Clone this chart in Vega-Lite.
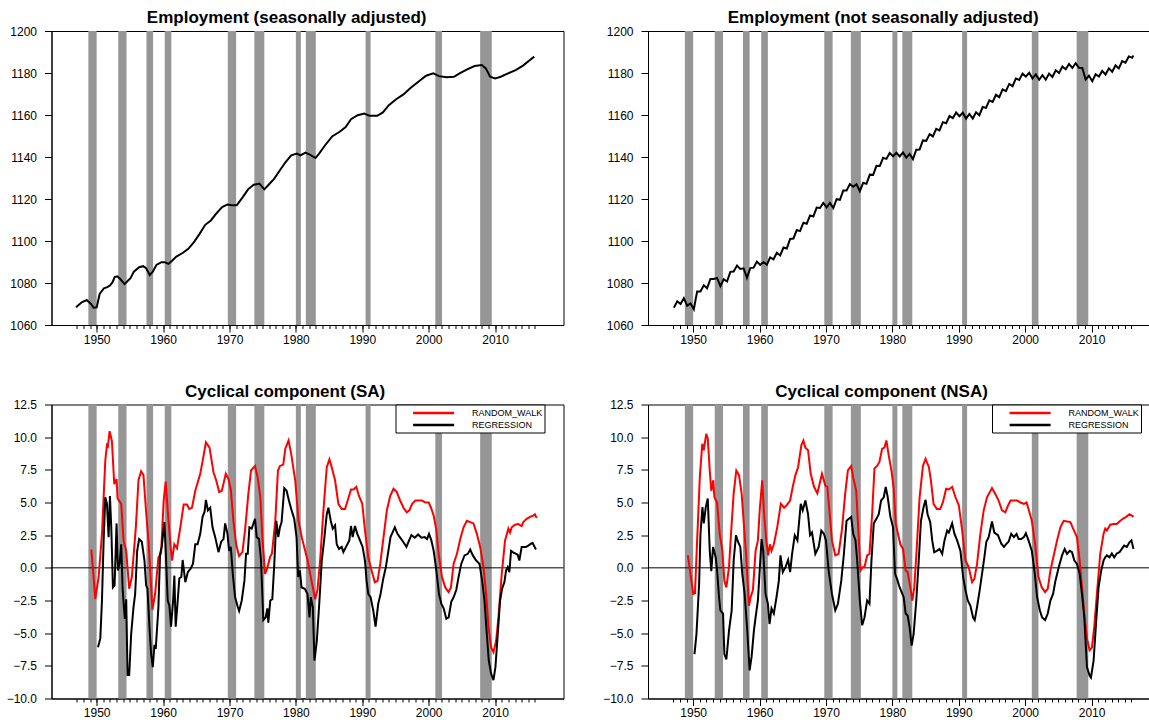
{
  "$schema": "https://vega.github.io/schema/vega-lite/v6.json",
  "background": "white",
  "padding": {"left": 5.5, "top": 8, "right": 0, "bottom": 0},
  "columns": 2,
  "spacing": {"row": 35.5, "column": 37.5},
  "config": {
    "view": {"stroke": "black", "strokeWidth": 1},
    "font": "Liberation Sans",
    "axis": {"grid": false, "domainColor": "black", "tickColor": "black", "labelColor": "black", "labelFontSize": 12, "labelFont": "Liberation Sans", "tickSize": 7},
    "title": {"fontSize": 17, "font": "Liberation Sans", "fontWeight": "bold", "color": "black", "frame": "bounds", "anchor": "middle"},
    "legend": {"symbolType": "M-4.1,0H4.1", "symbolSize": 100, "symbolStrokeWidth": 2.5, "labelFontSize": 9, "labelFont": "Liberation Sans", "labelColor": "black", "strokeColor": "black", "fillColor": "white", "padding": 2, "rowPadding": 0, "symbolOffset": 29.6, "labelOffset": 32}
  },
  "resolve": {"scale": {"color": "independent"}, "legend": {"color": "independent"}},
  "datasets": {
    "rec": [
      {"start": 1948.75, "end": 1950.0}, {"start": 1953.25, "end": 1954.5}, {"start": 1957.5, "end": 1958.5},
      {"start": 1960.25, "end": 1961.25}, {"start": 1969.75, "end": 1971.0}, {"start": 1973.75, "end": 1975.25},
      {"start": 1980.0, "end": 1980.75}, {"start": 1981.5, "end": 1983.0}, {"start": 1990.5, "end": 1991.25},
      {"start": 2001.0, "end": 2002.0}, {"start": 2007.75, "end": 2009.5}
    ],
    "sa": [
      {"t":1946.9,"v":1068.4},{"t":1947.75,"v":1070.8},{"t":1948.5,"v":1071.9},{"t":1949.15,"v":1070},{"t":1949.55,"v":1068.2},
      {"t":1950.0,"v":1068.4},{"t":1950.45,"v":1074.8},{"t":1951.1,"v":1077.5},{"t":1951.6,"v":1078},{"t":1952.0,"v":1078.8},
      {"t":1952.4,"v":1080.4},{"t":1952.7,"v":1082.8},{"t":1953.1,"v":1083.2},{"t":1953.55,"v":1081.9},{"t":1954.2,"v":1079.5},
      {"t":1955.1,"v":1082.3},{"t":1955.6,"v":1085.4},{"t":1956.4,"v":1087.5},{"t":1957.0,"v":1088},{"t":1957.45,"v":1087},
      {"t":1958.0,"v":1083.8},{"t":1958.45,"v":1085.4},{"t":1959.0,"v":1088.6},{"t":1959.75,"v":1089.9},{"t":1960.25,"v":1089.9},
      {"t":1960.8,"v":1089.1},{"t":1961.4,"v":1090.7},{"t":1962.0,"v":1092.6},{"t":1963.0,"v":1094.4},{"t":1963.8,"v":1096.3},
      {"t":1964.65,"v":1099.5},{"t":1965.5,"v":1103.4},{"t":1966.35,"v":1107.7},{"t":1967.2,"v":1109.8},{"t":1968.0,"v":1113},
      {"t":1968.9,"v":1116.2},{"t":1969.7,"v":1117.4},{"t":1970.4,"v":1117},{"t":1971.1,"v":1117},{"t":1972.0,"v":1120.9},
      {"t":1972.8,"v":1124.6},{"t":1973.65,"v":1126.8},{"t":1974.5,"v":1127.3},{"t":1975.25,"v":1124.6},{"t":1975.9,"v":1126.8},
      {"t":1976.75,"v":1129.7},{"t":1977.6,"v":1133.7},{"t":1978.45,"v":1137.6},{"t":1979.3,"v":1140.8},{"t":1980.15,"v":1141.6},
      {"t":1980.7,"v":1140.8},{"t":1981.45,"v":1142.1},{"t":1982.1,"v":1141.1},{"t":1982.95,"v":1139.5},{"t":1983.5,"v":1141.6},
      {"t":1984.4,"v":1145.6},{"t":1985.5,"v":1149.9},{"t":1986.6,"v":1152},{"t":1987.5,"v":1154.3},{"t":1988.3,"v":1158},
      {"t":1989.3,"v":1159.9},{"t":1990.3,"v":1160.7},{"t":1991.1,"v":1159.6},{"t":1992.25,"v":1159.6},{"t":1993.1,"v":1161.2},
      {"t":1994.0,"v":1164.7},{"t":1995.1,"v":1167.5},{"t":1996.2,"v":1169.8},{"t":1997.3,"v":1173},{"t":1998.45,"v":1175.8},
      {"t":1999.6,"v":1178.7},{"t":2000.7,"v":1179.8},{"t":2001.55,"v":1178.5},{"t":2002.7,"v":1178},{"t":2003.8,"v":1178.2},
      {"t":2004.65,"v":1179.8},{"t":2005.8,"v":1181.7},{"t":2006.9,"v":1183.3},{"t":2008.0,"v":1183.8},{"t":2008.6,"v":1182.2},
      {"t":2009.25,"v":1178.2},{"t":2010.0,"v":1177.4},{"t":2010.85,"v":1178.2},{"t":2011.95,"v":1179.8},{"t":2013.1,"v":1181.4},
      {"t":2014.2,"v":1183.5},{"t":2015.25,"v":1186.2},{"t":2015.9,"v":1187.8}
    ],
    "nsa": [
      {"t":1947.1,"v":1068.2},{"t":1947.6,"v":1071.3},{"t":1948.1,"v":1070.0},{"t":1948.6,"v":1072.8},{"t":1949.1,"v":1069.2},{"t":1949.6,"v":1070.3},
      {"t":1950.1,"v":1067.5},{"t":1950.6,"v":1076.0},{"t":1951.1,"v":1076.0},{"t":1951.6,"v":1078.9},{"t":1952.1,"v":1077.5},{"t":1952.6,"v":1081.9},
      {"t":1953.1,"v":1081.9},{"t":1953.6,"v":1082.4},{"t":1954.1,"v":1078.5},{"t":1954.6,"v":1081.8},{"t":1955.1,"v":1080.7},{"t":1955.6,"v":1085.3},
      {"t":1956.1,"v":1085.5},{"t":1956.6,"v":1088.3},{"t":1957.1,"v":1086.7},{"t":1957.6,"v":1087.0},{"t":1958.1,"v":1082.5},{"t":1958.6,"v":1087.1},
      {"t":1959.1,"v":1087.3},{"t":1959.6,"v":1090.2},{"t":1960.1,"v":1088.6},{"t":1960.6,"v":1090.0},{"t":1961.1,"v":1088.7},{"t":1961.6,"v":1092.2},
      {"t":1962.1,"v":1091.3},{"t":1962.6,"v":1094.4},{"t":1963.1,"v":1093.1},{"t":1963.6,"v":1096.9},{"t":1964.1,"v":1096.4},{"t":1964.6,"v":1101.0},
      {"t":1965.1,"v":1101.2},{"t":1965.6,"v":1105.2},{"t":1966.1,"v":1104.7},{"t":1966.6,"v":1108.7},{"t":1967.1,"v":1108.2},{"t":1967.6,"v":1112.2},
      {"t":1968.1,"v":1111.7},{"t":1968.6,"v":1115.9},{"t":1969.1,"v":1115.7},{"t":1969.6,"v":1118.1},{"t":1970.1,"v":1116.0},{"t":1970.6,"v":1118.1},
      {"t":1971.1,"v":1115.7},{"t":1971.6,"v":1119.9},{"t":1972.1,"v":1119.6},{"t":1972.6,"v":1124.0},{"t":1973.1,"v":1124.0},{"t":1973.6,"v":1127.1},
      {"t":1974.1,"v":1125.8},{"t":1974.6,"v":1127.0},{"t":1975.1,"v":1123.7},{"t":1975.6,"v":1127.7},{"t":1976.1,"v":1127.2},{"t":1976.6,"v":1131.6},
      {"t":1977.1,"v":1131.5},{"t":1977.6,"v":1135.8},{"t":1978.1,"v":1135.7},{"t":1978.6,"v":1139.6},{"t":1979.1,"v":1139.1},{"t":1979.6,"v":1141.9},
      {"t":1980.1,"v":1140.3},{"t":1980.6,"v":1142.0},{"t":1981.1,"v":1140.3},{"t":1981.6,"v":1142.2},{"t":1982.1,"v":1139.7},{"t":1982.6,"v":1141.5},
      {"t":1983.1,"v":1139.0},{"t":1983.6,"v":1143.5},{"t":1984.1,"v":1143.6},{"t":1984.6,"v":1147.9},{"t":1985.1,"v":1147.7},{"t":1985.6,"v":1150.9},
      {"t":1986.1,"v":1149.8},{"t":1986.6,"v":1153.4},{"t":1987.1,"v":1152.7},{"t":1987.6,"v":1156.6},{"t":1988.1,"v":1156.1},{"t":1988.6,"v":1159.5},
      {"t":1989.1,"v":1158.5},{"t":1989.6,"v":1161.2},{"t":1990.1,"v":1159.4},{"t":1990.6,"v":1161.1},{"t":1991.1,"v":1158.3},{"t":1991.6,"v":1160.5},
      {"t":1992.1,"v":1158.3},{"t":1992.6,"v":1161.3},{"t":1993.1,"v":1159.9},{"t":1993.6,"v":1163.8},{"t":1994.1,"v":1163.4},{"t":1994.6,"v":1167.0},
      {"t":1995.1,"v":1166.2},{"t":1995.6,"v":1169.6},{"t":1996.1,"v":1168.5},{"t":1996.6,"v":1172.2},{"t":1997.1,"v":1171.4},{"t":1997.6,"v":1174.8},
      {"t":1998.1,"v":1173.7},{"t":1998.6,"v":1177.4},{"t":1999.1,"v":1176.7},{"t":1999.6,"v":1179.7},{"t":2000.1,"v":1178.3},{"t":2000.6,"v":1180.1},
      {"t":2001.1,"v":1177.4},{"t":2001.6,"v":1179.3},{"t":2002.1,"v":1176.8},{"t":2002.6,"v":1179.0},{"t":2003.1,"v":1176.8},{"t":2003.6,"v":1179.7},
      {"t":2004.1,"v":1178.1},{"t":2004.6,"v":1181.3},{"t":2005.1,"v":1180.0},{"t":2005.6,"v":1183.1},{"t":2006.1,"v":1181.8},{"t":2006.6,"v":1184.3},
      {"t":2007.1,"v":1182.4},{"t":2007.6,"v":1184.7},{"t":2008.1,"v":1182.5},{"t":2008.6,"v":1182.4},{"t":2009.1,"v":1176.9},{"t":2009.6,"v":1178.7},
      {"t":2010.1,"v":1176.1},{"t":2010.6,"v":1179.4},{"t":2011.1,"v":1178.3},{"t":2011.6,"v":1181.0},{"t":2012.1,"v":1179.3},{"t":2012.6,"v":1182.2},
      {"t":2013.1,"v":1180.6},{"t":2013.6,"v":1183.6},{"t":2014.1,"v":1182.2},{"t":2014.6,"v":1185.7},{"t":2015.1,"v":1184.9},{"t":2015.6,"v":1187.9},
      {"t":2016.1,"v":1187.3},{"t":2016.3,"v":1188.3}
    ],
    "rwsa": [
      {"t":1949.2,"v":1.4},{"t":1949.8,"v":-2.4},{"t":1950.3,"v":-0.7},{"t":1950.8,"v":2.6},{"t":1951.3,"v":8.2},{"t":1951.55,"v":9.4},
      {"t":1951.7,"v":9.3},{"t":1951.95,"v":10.46},{"t":1952.3,"v":9.7},{"t":1952.65,"v":6.4},{"t":1953.0,"v":6.8},{"t":1953.15,"v":5.3},
      {"t":1953.7,"v":4.9},{"t":1954.05,"v":2.1},{"t":1954.45,"v":1.3},{"t":1954.9,"v":-1.6},{"t":1955.3,"v":-0.7},{"t":1955.9,"v":3.1},
      {"t":1956.3,"v":6.7},{"t":1956.7,"v":7.4},{"t":1957.05,"v":7.1},{"t":1957.4,"v":4.6},{"t":1957.8,"v":2.1},{"t":1958.4,"v":-3.2},
      {"t":1958.8,"v":-2.0},{"t":1959.3,"v":0.8},{"t":1959.7,"v":1.1},{"t":1960.1,"v":5.2},{"t":1960.4,"v":6.6},{"t":1960.7,"v":4.4},
      {"t":1961.1,"v":1.8},{"t":1961.35,"v":0.56},{"t":1961.7,"v":1.8},{"t":1962.1,"v":1.5},{"t":1962.6,"v":3.1},{"t":1963.1,"v":4.85},
      {"t":1963.6,"v":4.85},{"t":1963.95,"v":4.5},{"t":1964.35,"v":4.6},{"t":1964.85,"v":5.9},{"t":1965.6,"v":7.2},{"t":1966.0,"v":8.3},
      {"t":1966.45,"v":9.6},{"t":1967.0,"v":9.2},{"t":1967.6,"v":7.3},{"t":1968.0,"v":6.7},{"t":1968.45,"v":5.8},{"t":1968.85,"v":5.9},
      {"t":1969.45,"v":7.2},{"t":1969.85,"v":6.8},{"t":1970.2,"v":6.0},{"t":1970.6,"v":3.6},{"t":1971.0,"v":1.8},{"t":1971.45,"v":0.9},
      {"t":1971.95,"v":1.2},{"t":1972.35,"v":2.9},{"t":1972.85,"v":5.7},{"t":1973.25,"v":7.45},{"t":1973.85,"v":7.8},{"t":1974.25,"v":6.9},
      {"t":1974.65,"v":5.4},{"t":1974.95,"v":2.35},{"t":1975.35,"v":-0.46},{"t":1975.65,"v":-0.1},{"t":1976.1,"v":0.8},{"t":1976.4,"v":1.1},
      {"t":1976.9,"v":3.6},{"t":1977.3,"v":7.45},{"t":1977.6,"v":7.8},{"t":1978.1,"v":7.9},{"t":1978.4,"v":9.1},{"t":1978.9,"v":9.75},
      {"t":1979.3,"v":8.7},{"t":1979.9,"v":6.7},{"t":1980.4,"v":3.6},{"t":1980.9,"v":2.3},{"t":1981.4,"v":1.3},{"t":1981.8,"v":0.5},
      {"t":1982.15,"v":-0.46},{"t":1982.55,"v":-1.5},{"t":1982.9,"v":-2.4},{"t":1983.25,"v":-1.7},{"t":1983.65,"v":0.56},{"t":1984.15,"v":4.4},
      {"t":1984.65,"v":7.7},{"t":1985.05,"v":8.3},{"t":1985.4,"v":7.7},{"t":1985.9,"v":6.7},{"t":1986.4,"v":4.9},{"t":1986.9,"v":4.5},
      {"t":1987.4,"v":4.5},{"t":1987.8,"v":5.15},{"t":1988.3,"v":6.0},{"t":1988.7,"v":6.0},{"t":1989.1,"v":6.2},{"t":1989.5,"v":5.5},
      {"t":1990.0,"v":4.9},{"t":1990.4,"v":2.9},{"t":1990.9,"v":0.8},{"t":1991.4,"v":-0.2},{"t":1991.9,"v":-1.1},{"t":1992.3,"v":-1.0},
      {"t":1992.7,"v":0.3},{"t":1993.2,"v":2.35},{"t":1993.7,"v":4.4},{"t":1994.2,"v":5.5},{"t":1994.7,"v":6.05},{"t":1995.2,"v":5.8},
      {"t":1995.7,"v":5.15},{"t":1996.2,"v":4.6},{"t":1996.7,"v":4.25},{"t":1997.1,"v":4.4},{"t":1997.5,"v":4.9},{"t":1998.0,"v":5.15},
      {"t":1998.5,"v":5.15},{"t":1999.0,"v":5.15},{"t":1999.5,"v":5.0},{"t":2000.0,"v":5.0},{"t":2000.35,"v":4.6},{"t":2000.75,"v":4.0},
      {"t":2001.15,"v":2.9},{"t":2001.5,"v":1.07},{"t":2002.0,"v":-0.7},{"t":2002.5,"v":-1.5},{"t":2003.0,"v":-1.85},{"t":2003.35,"v":-1.5},
      {"t":2003.75,"v":0.3},{"t":2004.25,"v":1.07},{"t":2004.75,"v":2.2},{"t":2005.25,"v":3.1},{"t":2005.75,"v":3.6},{"t":2006.25,"v":3.5},
      {"t":2006.75,"v":3.4},{"t":2007.25,"v":2.6},{"t":2007.75,"v":1.6},{"t":2008.25,"v":0.05},{"t":2008.65,"v":-2.0},{"t":2009.0,"v":-4.5},
      {"t":2009.4,"v":-6.1},{"t":2009.75,"v":-6.45},{"t":2010.15,"v":-5.6},{"t":2010.5,"v":-3.8},{"t":2011.0,"v":-0.46},{"t":2011.5,"v":2.1},
      {"t":2012.0,"v":3.0},{"t":2012.25,"v":2.7},{"t":2012.5,"v":3.1},{"t":2013.0,"v":3.3},{"t":2013.5,"v":3.35},{"t":2014.0,"v":3.2},
      {"t":2014.25,"v":3.5},{"t":2014.75,"v":3.75},{"t":2015.25,"v":3.9},{"t":2015.75,"v":4.0},{"t":2016.0,"v":4.1},{"t":2016.25,"v":3.8}
    ],
    "rgsa": [
      {"t":1950.2,"v":-6.07},{"t":1950.55,"v":-5.4},{"t":1950.8,"v":-2.5},{"t":1951.05,"v":2.1},{"t":1951.3,"v":5.4},{"t":1951.55,"v":4.9},
      {"t":1951.8,"v":2.35},{"t":1952.0,"v":5.5},{"t":1952.2,"v":3.1},{"t":1952.45,"v":-1.5},{"t":1952.7,"v":-1.35},{"t":1953.0,"v":3.4},
      {"t":1953.2,"v":-0.2},{"t":1953.45,"v":0.3},{"t":1953.7,"v":1.8},{"t":1953.9,"v":-1.5},{"t":1954.1,"v":-3.0},{"t":1954.25,"v":-3.9},
      {"t":1954.45,"v":-2.4},{"t":1954.65,"v":-8.2},{"t":1954.9,"v":-8.2},{"t":1955.2,"v":-5.05},{"t":1955.55,"v":-3.0},{"t":1955.8,"v":-2.0},
      {"t":1956.1,"v":1.3},{"t":1956.4,"v":2.2},{"t":1956.8,"v":2.0},{"t":1957.2,"v":0.56},{"t":1957.45,"v":-1.35},{"t":1957.65,"v":-1.6},
      {"t":1957.95,"v":-4.5},{"t":1958.2,"v":-6.6},{"t":1958.45,"v":-7.6},{"t":1958.7,"v":-5.9},{"t":1958.9,"v":-6.2},{"t":1959.3,"v":-3.0},
      {"t":1959.55,"v":1.07},{"t":1959.8,"v":1.6},{"t":1960.2,"v":3.5},{"t":1960.4,"v":1.3},{"t":1960.7,"v":-2.5},{"t":1960.95,"v":-2.9},
      {"t":1961.2,"v":-4.5},{"t":1961.5,"v":-2.6},{"t":1961.7,"v":-0.6},{"t":1961.9,"v":-4.5},{"t":1962.15,"v":-2.9},{"t":1962.45,"v":-0.8},
      {"t":1962.75,"v":-0.7},{"t":1962.95,"v":0.6},{"t":1963.35,"v":-1.1},{"t":1963.75,"v":-0.3},{"t":1964.1,"v":-0.1},{"t":1964.5,"v":0.3},
      {"t":1964.85,"v":1.8},{"t":1965.2,"v":1.8},{"t":1965.6,"v":2.6},{"t":1965.95,"v":3.9},{"t":1966.25,"v":4.3},{"t":1966.45,"v":5.2},
      {"t":1966.75,"v":4.4},{"t":1967.1,"v":4.6},{"t":1967.45,"v":3.1},{"t":1967.85,"v":2.35},{"t":1968.35,"v":1.2},{"t":1968.75,"v":2.0},
      {"t":1969.1,"v":2.2},{"t":1969.35,"v":3.4},{"t":1969.7,"v":2.6},{"t":1969.95,"v":1.3},{"t":1970.2,"v":1.6},{"t":1970.5,"v":-0.46},
      {"t":1970.85,"v":-2.25},{"t":1971.25,"v":-3.0},{"t":1971.45,"v":-3.3},{"t":1971.85,"v":-2.5},{"t":1972.25,"v":-1.0},{"t":1972.5,"v":1.07},
      {"t":1972.75,"v":1.07},{"t":1973.0,"v":3.1},{"t":1973.35,"v":3.0},{"t":1973.85,"v":3.75},{"t":1974.1,"v":2.35},{"t":1974.45,"v":2.2},
      {"t":1974.75,"v":0.56},{"t":1975.1,"v":-4.0},{"t":1975.45,"v":-3.8},{"t":1975.7,"v":-3.1},{"t":1975.85,"v":-4.2},{"t":1976.15,"v":-2.5},
      {"t":1976.45,"v":-2.4},{"t":1976.75,"v":0.3},{"t":1977.05,"v":3.6},{"t":1977.35,"v":2.35},{"t":1977.6,"v":3.1},{"t":1977.85,"v":3.5},
      {"t":1978.25,"v":6.1},{"t":1978.6,"v":5.9},{"t":1978.95,"v":5.15},{"t":1979.35,"v":4.4},{"t":1979.75,"v":3.75},{"t":1980.1,"v":2.35},
      {"t":1980.35,"v":-0.7},{"t":1980.6,"v":-0.2},{"t":1980.85,"v":-1.5},{"t":1981.35,"v":-1.6},{"t":1981.75,"v":-2.0},{"t":1982.05,"v":-3.8},
      {"t":1982.25,"v":-2.25},{"t":1982.55,"v":-3.0},{"t":1982.8,"v":-7.1},{"t":1983.15,"v":-5.6},{"t":1983.55,"v":-2.5},{"t":1983.9,"v":0.56},
      {"t":1984.25,"v":2.1},{"t":1984.65,"v":4.1},{"t":1984.9,"v":4.6},{"t":1985.25,"v":3.6},{"t":1985.55,"v":3.0},{"t":1985.9,"v":3.25},
      {"t":1986.15,"v":1.8},{"t":1986.5,"v":1.45},{"t":1986.9,"v":1.6},{"t":1987.15,"v":1.2},{"t":1987.65,"v":1.7},{"t":1988.05,"v":2.1},
      {"t":1988.3,"v":3.2},{"t":1988.55,"v":2.35},{"t":1988.9,"v":3.2},{"t":1989.25,"v":2.6},{"t":1989.65,"v":2.1},{"t":1990.05,"v":1.6},
      {"t":1990.4,"v":0.56},{"t":1990.65,"v":-1.0},{"t":1990.9,"v":-2.0},{"t":1991.25,"v":-2.25},{"t":1991.65,"v":-3.25},{"t":1992.0,"v":-4.5},
      {"t":1992.4,"v":-2.75},{"t":1992.75,"v":-2.0},{"t":1993.15,"v":-0.85},{"t":1993.55,"v":0.05},{"t":1993.9,"v":1.2},{"t":1994.25,"v":2.35},
      {"t":1994.55,"v":2.7},{"t":1994.9,"v":3.1},{"t":1995.3,"v":2.6},{"t":1995.65,"v":2.35},{"t":1996.15,"v":2.0},{"t":1996.65,"v":1.6},
      {"t":1997.05,"v":2.1},{"t":1997.4,"v":2.5},{"t":1997.9,"v":2.3},{"t":1998.4,"v":2.55},{"t":1998.9,"v":2.3},{"t":1999.4,"v":2.35},
      {"t":1999.75,"v":2.2},{"t":2000.05,"v":2.6},{"t":2000.4,"v":2.1},{"t":2000.75,"v":1.3},{"t":2001.15,"v":-0.2},{"t":2001.55,"v":-2.0},
      {"t":2001.9,"v":-2.75},{"t":2002.25,"v":-3.1},{"t":2002.65,"v":-3.9},{"t":2003.0,"v":-3.8},{"t":2003.4,"v":-2.6},{"t":2003.75,"v":-2.25},
      {"t":2004.15,"v":-1.7},{"t":2004.5,"v":-0.7},{"t":2004.9,"v":0.3},{"t":2005.4,"v":0.95},{"t":2005.9,"v":1.07},{"t":2006.25,"v":1.4},
      {"t":2006.65,"v":0.95},{"t":2007.15,"v":0.56},{"t":2007.65,"v":0.3},{"t":2008.05,"v":-1.0},{"t":2008.4,"v":-2.5},{"t":2008.75,"v":-5.05},
      {"t":2009.05,"v":-7.1},{"t":2009.4,"v":-8.1},{"t":2009.75,"v":-8.6},{"t":2010.05,"v":-7.6},{"t":2010.4,"v":-5.05},{"t":2010.75,"v":-2.5},
      {"t":2011.05,"v":-1.6},{"t":2011.4,"v":-1.1},{"t":2011.65,"v":-0.2},{"t":2011.9,"v":0.05},{"t":2012.15,"v":-0.33},{"t":2012.4,"v":1.3},
      {"t":2012.65,"v":1.2},{"t":2013.15,"v":1.07},{"t":2013.4,"v":1.0},{"t":2013.65,"v":0.56},{"t":2014.0,"v":1.6},{"t":2014.3,"v":1.6},
      {"t":2014.65,"v":1.6},{"t":2015.0,"v":1.7},{"t":2015.4,"v":1.85},{"t":2015.65,"v":1.9},{"t":2015.9,"v":1.65},{"t":2016.15,"v":1.4}
    ],
    "rwnsa": [
      {"t":1949.2,"v":0.95},{"t":1949.6,"v":-0.46},{"t":1950.0,"v":-2.0},{"t":1950.27,"v":-1.95},{"t":1950.6,"v":2.1},{"t":1951.0,"v":6.9},
      {"t":1951.37,"v":9.5},{"t":1951.6,"v":9.0},{"t":1951.97,"v":10.25},{"t":1952.2,"v":9.9},{"t":1952.5,"v":7.45},{"t":1952.73,"v":5.9},
      {"t":1953.03,"v":6.7},{"t":1953.2,"v":5.4},{"t":1953.6,"v":5.0},{"t":1954.0,"v":2.6},{"t":1954.4,"v":1.3},{"t":1954.7,"v":-1.0},
      {"t":1955.0,"v":-1.5},{"t":1955.4,"v":0.05},{"t":1955.7,"v":2.6},{"t":1956.1,"v":5.7},{"t":1956.5,"v":7.45},{"t":1956.9,"v":7.1},
      {"t":1957.3,"v":5.7},{"t":1957.6,"v":3.6},{"t":1958.0,"v":0.8},{"t":1958.4,"v":-2.9},{"t":1958.65,"v":-2.25},{"t":1959.0,"v":-1.7},
      {"t":1959.4,"v":1.3},{"t":1959.75,"v":2.1},{"t":1960.05,"v":4.6},{"t":1960.4,"v":6.7},{"t":1960.65,"v":4.4},{"t":1961.0,"v":2.1},
      {"t":1961.3,"v":0.95},{"t":1961.55,"v":1.8},{"t":1961.8,"v":1.3},{"t":1962.15,"v":1.8},{"t":1962.66,"v":3.1},{"t":1963.2,"v":4.9},
      {"t":1963.7,"v":4.6},{"t":1964.1,"v":4.8},{"t":1964.6,"v":5.15},{"t":1965.0,"v":6.2},{"t":1965.4,"v":7.1},{"t":1965.8,"v":7.7},
      {"t":1966.3,"v":9.4},{"t":1966.6,"v":9.75},{"t":1966.9,"v":9.2},{"t":1967.3,"v":9.0},{"t":1967.7,"v":7.2},{"t":1968.2,"v":6.2},
      {"t":1968.7,"v":5.7},{"t":1969.1,"v":6.55},{"t":1969.4,"v":7.2},{"t":1969.9,"v":6.3},{"t":1970.2,"v":6.2},{"t":1970.6,"v":3.9},
      {"t":1970.9,"v":2.1},{"t":1971.4,"v":0.95},{"t":1971.9,"v":1.07},{"t":1972.4,"v":2.9},{"t":1972.9,"v":5.7},{"t":1973.3,"v":7.45},
      {"t":1973.8,"v":7.8},{"t":1974.1,"v":6.9},{"t":1974.55,"v":5.9},{"t":1974.85,"v":3.1},{"t":1975.2,"v":-0.2},{"t":1975.5,"v":0.05},
      {"t":1975.8,"v":0.05},{"t":1976.2,"v":0.95},{"t":1976.55,"v":1.07},{"t":1976.95,"v":4.1},{"t":1977.3,"v":7.6},{"t":1977.7,"v":7.8},
      {"t":1978.05,"v":8.1},{"t":1978.45,"v":9.1},{"t":1978.8,"v":9.2},{"t":1979.1,"v":9.75},{"t":1979.45,"v":8.6},{"t":1979.9,"v":7.3},
      {"t":1980.2,"v":6.05},{"t":1980.5,"v":3.4},{"t":1980.8,"v":2.7},{"t":1981.2,"v":1.8},{"t":1981.6,"v":1.45},{"t":1982.0,"v":-0.2},
      {"t":1982.3,"v":-0.33},{"t":1982.7,"v":-1.5},{"t":1983.0,"v":-2.5},{"t":1983.3,"v":-1.5},{"t":1983.7,"v":1.8},{"t":1984.1,"v":5.4},
      {"t":1984.6,"v":7.8},{"t":1985.0,"v":8.35},{"t":1985.5,"v":7.7},{"t":1985.8,"v":6.7},{"t":1986.2,"v":4.9},{"t":1986.7,"v":4.5},
      {"t":1987.2,"v":4.5},{"t":1987.6,"v":5.0},{"t":1988.1,"v":6.05},{"t":1988.5,"v":6.0},{"t":1989.0,"v":6.2},{"t":1989.5,"v":5.4},
      {"t":1990.0,"v":4.8},{"t":1990.5,"v":2.9},{"t":1991.0,"v":0.56},{"t":1991.5,"v":0.05},{"t":1992.0,"v":-1.1},{"t":1992.35,"v":-0.85},
      {"t":1992.75,"v":0.3},{"t":1993.25,"v":2.6},{"t":1993.75,"v":4.4},{"t":1994.25,"v":5.4},{"t":1995.0,"v":6.1},{"t":1995.5,"v":5.65},
      {"t":1996.0,"v":5.15},{"t":1996.5,"v":4.4},{"t":1997.0,"v":4.25},{"t":1997.4,"v":4.75},{"t":1997.8,"v":5.15},{"t":1998.3,"v":5.15},
      {"t":1998.8,"v":5.15},{"t":1999.3,"v":5.0},{"t":1999.8,"v":4.9},{"t":2000.2,"v":5.0},{"t":2000.5,"v":4.5},{"t":2001.0,"v":3.6},
      {"t":2001.5,"v":1.8},{"t":2002.0,"v":-0.7},{"t":2002.5,"v":-1.5},{"t":2003.0,"v":-1.85},{"t":2003.4,"v":-1.6},{"t":2003.8,"v":-0.2},
      {"t":2004.3,"v":0.95},{"t":2004.8,"v":2.1},{"t":2005.3,"v":3.1},{"t":2005.8,"v":3.6},{"t":2006.3,"v":3.55},{"t":2006.8,"v":3.5},
      {"t":2007.3,"v":2.9},{"t":2007.8,"v":2.35},{"t":2008.2,"v":0.56},{"t":2008.55,"v":-1.5},{"t":2008.9,"v":-3.5},{"t":2009.3,"v":-5.4},
      {"t":2009.7,"v":-6.3},{"t":2010.05,"v":-6.1},{"t":2010.4,"v":-4.5},{"t":2010.8,"v":-2.0},{"t":2011.3,"v":1.07},{"t":2011.8,"v":2.6},
      {"t":2012.05,"v":3.0},{"t":2012.3,"v":2.85},{"t":2012.8,"v":3.3},{"t":2013.3,"v":3.35},{"t":2013.8,"v":3.35},{"t":2014.2,"v":3.55},
      {"t":2014.7,"v":3.75},{"t":2015.2,"v":3.9},{"t":2015.7,"v":4.1},{"t":2016.05,"v":4.0},{"t":2016.3,"v":3.9}
    ],
    "rgnsa": [
      {"t":1950.2,"v":-6.6},{"t":1950.5,"v":-5.05},{"t":1950.9,"v":-1.2},{"t":1951.1,"v":2.6},{"t":1951.4,"v":4.65},{"t":1951.6,"v":3.4},
      {"t":1951.9,"v":4.65},{"t":1952.2,"v":5.3},{"t":1952.5,"v":1.3},{"t":1952.73,"v":-0.25},{"t":1953.0,"v":1.6},{"t":1953.4,"v":0.8},
      {"t":1953.6,"v":-0.2},{"t":1953.9,"v":-2.25},{"t":1954.1,"v":-3.25},{"t":1954.5,"v":-3.5},{"t":1954.7,"v":-6.6},{"t":1955.0,"v":-7.0},
      {"t":1955.4,"v":-4.8},{"t":1955.8,"v":-3.25},{"t":1956.1,"v":0.56},{"t":1956.45,"v":2.5},{"t":1956.75,"v":2.0},{"t":1957.1,"v":1.6},
      {"t":1957.4,"v":-0.46},{"t":1957.75,"v":-2.0},{"t":1958.15,"v":-4.8},{"t":1958.5,"v":-7.85},{"t":1958.8,"v":-6.8},{"t":1959.15,"v":-4.8},
      {"t":1959.4,"v":-3.8},{"t":1959.75,"v":-2.5},{"t":1960.05,"v":0.05},{"t":1960.3,"v":2.2},{"t":1960.55,"v":1.3},{"t":1960.9,"v":-2.0},
      {"t":1961.25,"v":-2.75},{"t":1961.5,"v":-4.3},{"t":1961.8,"v":-3.1},{"t":1962.15,"v":-3.5},{"t":1962.55,"v":-2.25},{"t":1962.9,"v":-1.0},
      {"t":1963.15,"v":0.95},{"t":1963.5,"v":-0.33},{"t":1963.9,"v":0.05},{"t":1964.3,"v":0.6},{"t":1964.6,"v":-0.33},{"t":1964.9,"v":1.07},
      {"t":1965.3,"v":2.5},{"t":1965.7,"v":2.1},{"t":1966.2,"v":4.9},{"t":1966.5,"v":4.4},{"t":1966.9,"v":5.15},{"t":1967.3,"v":4.1},
      {"t":1967.6,"v":2.5},{"t":1967.9,"v":2.7},{"t":1968.4,"v":1.07},{"t":1968.9,"v":1.6},{"t":1969.3,"v":2.85},{"t":1969.7,"v":2.6},
      {"t":1970.0,"v":2.1},{"t":1970.4,"v":-0.2},{"t":1970.9,"v":-2.0},{"t":1971.4,"v":-3.25},{"t":1971.8,"v":-2.75},{"t":1972.3,"v":-1.0},
      {"t":1972.7,"v":1.07},{"t":1973.1,"v":3.6},{"t":1973.45,"v":3.75},{"t":1973.8,"v":3.9},{"t":1974.1,"v":2.6},{"t":1974.45,"v":2.1},
      {"t":1974.7,"v":0.56},{"t":1975.1,"v":-2.5},{"t":1975.45,"v":-4.4},{"t":1975.8,"v":-3.8},{"t":1976.2,"v":-2.5},{"t":1976.55,"v":-2.75},
      {"t":1976.85,"v":0.56},{"t":1977.2,"v":3.4},{"t":1977.6,"v":3.75},{"t":1977.95,"v":4.1},{"t":1978.3,"v":5.15},{"t":1978.7,"v":5.4},
      {"t":1979.0,"v":6.2},{"t":1979.3,"v":5.4},{"t":1979.7,"v":3.9},{"t":1980.1,"v":3.1},{"t":1980.4,"v":-0.46},{"t":1980.7,"v":-0.85},
      {"t":1981.1,"v":-1.5},{"t":1981.5,"v":-2.0},{"t":1981.7,"v":-2.25},{"t":1982.0,"v":-3.5},{"t":1982.3,"v":-3.65},{"t":1982.6,"v":-4.55},
      {"t":1982.9,"v":-5.95},{"t":1983.2,"v":-5.05},{"t":1983.6,"v":-2.5},{"t":1984.0,"v":0.8},{"t":1984.3,"v":3.6},{"t":1984.7,"v":4.65},
      {"t":1985.0,"v":5.2},{"t":1985.3,"v":4.1},{"t":1985.7,"v":3.5},{"t":1986.0,"v":2.1},{"t":1986.3,"v":1.2},{"t":1986.7,"v":1.3},
      {"t":1987.1,"v":1.45},{"t":1987.5,"v":1.07},{"t":1987.85,"v":2.1},{"t":1988.25,"v":2.85},{"t":1988.5,"v":2.7},{"t":1989.0,"v":3.4},
      {"t":1989.35,"v":2.6},{"t":1989.75,"v":2.1},{"t":1990.25,"v":1.3},{"t":1990.65,"v":-0.7},{"t":1991.0,"v":-1.7},{"t":1991.35,"v":-2.5},
      {"t":1991.75,"v":-2.9},{"t":1992.15,"v":-3.8},{"t":1992.4,"v":-4.0},{"t":1992.75,"v":-3.0},{"t":1993.15,"v":-1.7},{"t":1993.5,"v":-0.46},
      {"t":1993.85,"v":0.8},{"t":1994.15,"v":2.0},{"t":1994.5,"v":2.35},{"t":1995.0,"v":3.55},{"t":1995.35,"v":2.7},{"t":1995.9,"v":2.5},
      {"t":1996.4,"v":1.85},{"t":1996.8,"v":1.6},{"t":1997.2,"v":1.85},{"t":1997.5,"v":2.0},{"t":1997.9,"v":2.6},{"t":1998.3,"v":2.35},
      {"t":1998.7,"v":2.6},{"t":1999.0,"v":2.2},{"t":1999.4,"v":2.2},{"t":1999.8,"v":2.35},{"t":2000.1,"v":2.65},{"t":2000.5,"v":2.1},
      {"t":2001.0,"v":1.3},{"t":2001.45,"v":-0.46},{"t":2001.8,"v":-2.25},{"t":2002.2,"v":-3.25},{"t":2002.55,"v":-3.8},{"t":2003.0,"v":-4.0},
      {"t":2003.4,"v":-3.5},{"t":2003.8,"v":-2.5},{"t":2004.2,"v":-2.0},{"t":2004.55,"v":-1.0},{"t":2005.05,"v":0.05},{"t":2005.55,"v":0.95},
      {"t":2005.95,"v":1.45},{"t":2006.3,"v":1.07},{"t":2006.7,"v":1.3},{"t":2007.05,"v":1.2},{"t":2007.4,"v":0.56},{"t":2007.8,"v":0.3},
      {"t":2008.2,"v":-0.46},{"t":2008.55,"v":-2.0},{"t":2008.9,"v":-3.8},{"t":2009.3,"v":-7.6},{"t":2009.7,"v":-8.25},{"t":2009.9,"v":-8.4},
      {"t":2010.3,"v":-7.1},{"t":2010.7,"v":-4.0},{"t":2011.05,"v":-1.5},{"t":2011.45,"v":-0.2},{"t":2011.8,"v":0.56},{"t":2012.05,"v":0.8},
      {"t":2012.3,"v":0.95},{"t":2012.7,"v":0.8},{"t":2013.05,"v":1.1},{"t":2013.4,"v":0.8},{"t":2013.8,"v":1.1},{"t":2014.2,"v":1.2},
      {"t":2014.55,"v":1.45},{"t":2014.9,"v":1.7},{"t":2015.3,"v":1.6},{"t":2015.7,"v":1.95},{"t":2016.0,"v":2.1},{"t":2016.3,"v":1.45}
    ],
    "zero": [{"z": 0}]
  },
  "concat": [
    {
      "width": 512, "height": 294,
      "title": {"text": "Employment (seasonally adjusted)", "offset": -2},
      "layer": [
        {"data": {"name": "rec"}, "mark": {"type": "rect", "color": "#969696"},
         "encoding": {"x": {"field": "start", "type": "quantitative", "scale": {"domain": [1943.2, 2020.3], "nice": false, "zero": false},
                            "axis": {"orient": "bottom", "title": null, "values": [1950,1960,1970,1980,1990,2000,2010], "format": "d", "tickSize": 7, "labelPadding": 2}},
                      "x2": {"field": "end"}}},
        {"data": {"name": "sa"}, "mark": {"type": "line", "color": "black", "strokeWidth": 2},
         "encoding": {"x": {"field": "t", "type": "quantitative", "axis": {"orient": "bottom", "title": null, "labels": false, "domain": false, "tickSize": 3.5, "values": [1947,1948,1949,1950,1951,1952,1953,1954,1955,1956,1957,1958,1959,1960,1961,1962,1963,1964,1965,1966,1967,1968,1969,1970,1971,1972,1973,1974,1975,1976,1977,1978,1979,1980,1981,1982,1983,1984,1985,1986,1987,1988,1989,1990,1991,1992,1993,1994,1995,1996,1997,1998,1999,2000,2001,2002,2003,2004,2005,2006,2007,2008,2009,2010,2011,2012,2013,2014,2015,2016]}},
                      "y": {"field": "v", "type": "quantitative", "scale": {"domain": [1060, 1200], "nice": false, "zero": false},
                            "axis": {"title": null, "values": [1060,1080,1100,1120,1140,1160,1180,1200], "format": "d", "labelPadding": 8}}}}
      ],
      "resolve": {"axis": {"x": "independent"}}
    },
    {
      "width": 512, "height": 294,
      "title": {"text": "Employment (not seasonally adjusted)", "offset": -2},
      "layer": [
        {"data": {"name": "rec"}, "mark": {"type": "rect", "color": "#969696"},
         "encoding": {"x": {"field": "start", "type": "quantitative", "scale": {"domain": [1943.2, 2020.3], "nice": false, "zero": false},
                            "axis": {"orient": "bottom", "title": null, "values": [1950,1960,1970,1980,1990,2000,2010], "format": "d", "tickSize": 7, "labelPadding": 2}},
                      "x2": {"field": "end"}}},
        {"data": {"name": "nsa"}, "mark": {"type": "line", "color": "black", "strokeWidth": 2},
         "encoding": {"x": {"field": "t", "type": "quantitative", "axis": {"orient": "bottom", "title": null, "labels": false, "domain": false, "tickSize": 3.5, "values": [1947,1948,1949,1950,1951,1952,1953,1954,1955,1956,1957,1958,1959,1960,1961,1962,1963,1964,1965,1966,1967,1968,1969,1970,1971,1972,1973,1974,1975,1976,1977,1978,1979,1980,1981,1982,1983,1984,1985,1986,1987,1988,1989,1990,1991,1992,1993,1994,1995,1996,1997,1998,1999,2000,2001,2002,2003,2004,2005,2006,2007,2008,2009,2010,2011,2012,2013,2014,2015,2016]}},
                      "y": {"field": "v", "type": "quantitative", "scale": {"domain": [1060, 1200], "nice": false, "zero": false},
                            "axis": {"title": null, "values": [1060,1080,1100,1120,1140,1160,1180,1200], "format": "d", "labelPadding": 8}}}}
      ],
      "resolve": {"axis": {"x": "independent"}}
    },
    {
      "width": 512, "height": 294,
      "title": {"text": "Cyclical component (SA)", "offset": -2},
      "layer": [
        {"data": {"name": "rec"}, "mark": {"type": "rect", "color": "#969696"},
         "encoding": {"x": {"field": "start", "type": "quantitative", "scale": {"domain": [1943.2, 2020.3], "nice": false, "zero": false},
                            "axis": {"orient": "bottom", "title": null, "values": [1950,1960,1970,1980,1990,2000,2010], "format": "d", "tickSize": 7, "labelPadding": 2}},
                      "x2": {"field": "end"}}},
        {"data": {"name": "zero"}, "mark": {"type": "rule", "color": "black", "strokeWidth": 1},
         "encoding": {"y": {"field": "z", "type": "quantitative", "scale": {"domain": [-10, 12.5], "nice": false, "zero": false},
                            "axis": {"title": null, "values": [-10,-7.5,-5,-2.5,0,2.5,5,7.5,10,12.5], "format": ".1f", "labelPadding": 8}}}},
        {"data": {"name": "rwsa"}, "mark": {"type": "line", "strokeWidth": 2},
         "encoding": {"x": {"field": "t", "type": "quantitative", "axis": {"orient": "bottom", "title": null, "labels": false, "domain": false, "tickSize": 3.5, "values": [1947,1948,1949,1950,1951,1952,1953,1954,1955,1956,1957,1958,1959,1960,1961,1962,1963,1964,1965,1966,1967,1968,1969,1970,1971,1972,1973,1974,1975,1976,1977,1978,1979,1980,1981,1982,1983,1984,1985,1986,1987,1988,1989,1990,1991,1992,1993,1994,1995,1996,1997,1998,1999,2000,2001,2002,2003,2004,2005,2006,2007,2008,2009,2010,2011,2012,2013,2014,2015,2016]}},
                      "y": {"field": "v", "type": "quantitative", "axis": {"title": null, "values": [-10,-7.5,-5,-2.5,0,2.5,5,7.5,10,12.5], "format": ".1f", "labelPadding": 8}},
                      "color": {"datum": "RANDOM_WALK", "type": "nominal", "scale": {"domain": ["RANDOM_WALK", "REGRESSION"], "range": ["#ff0000", "#000000"]}, "legend": {"title": null, "orient": "none", "legendX": 344, "legendY": 0}}}},
        {"data": {"name": "rgsa"}, "mark": {"type": "line", "strokeWidth": 2},
         "encoding": {"x": {"field": "t", "type": "quantitative", "axis": null},
                      "y": {"field": "v", "type": "quantitative", "axis": {"title": null, "values": [-10,-7.5,-5,-2.5,0,2.5,5,7.5,10,12.5], "format": ".1f", "labelPadding": 8}},
                      "color": {"datum": "REGRESSION", "type": "nominal", "scale": {"domain": ["RANDOM_WALK", "REGRESSION"], "range": ["#ff0000", "#000000"]}, "legend": {"title": null, "orient": "none", "legendX": 344, "legendY": 0}}}}
      ],
      "resolve": {"axis": {"x": "independent"}}
    },
    {
      "width": 512, "height": 294,
      "title": {"text": "Cyclical component (NSA)", "offset": -2},
      "layer": [
        {"data": {"name": "rec"}, "mark": {"type": "rect", "color": "#969696"},
         "encoding": {"x": {"field": "start", "type": "quantitative", "scale": {"domain": [1943.2, 2020.3], "nice": false, "zero": false},
                            "axis": {"orient": "bottom", "title": null, "values": [1950,1960,1970,1980,1990,2000,2010], "format": "d", "tickSize": 7, "labelPadding": 2}},
                      "x2": {"field": "end"}}},
        {"data": {"name": "zero"}, "mark": {"type": "rule", "color": "black", "strokeWidth": 1},
         "encoding": {"y": {"field": "z", "type": "quantitative", "scale": {"domain": [-10, 12.5], "nice": false, "zero": false},
                            "axis": {"title": null, "values": [-10,-7.5,-5,-2.5,0,2.5,5,7.5,10,12.5], "format": ".1f", "labelPadding": 8}}}},
        {"data": {"name": "rwnsa"}, "mark": {"type": "line", "strokeWidth": 2},
         "encoding": {"x": {"field": "t", "type": "quantitative", "axis": {"orient": "bottom", "title": null, "labels": false, "domain": false, "tickSize": 3.5, "values": [1947,1948,1949,1950,1951,1952,1953,1954,1955,1956,1957,1958,1959,1960,1961,1962,1963,1964,1965,1966,1967,1968,1969,1970,1971,1972,1973,1974,1975,1976,1977,1978,1979,1980,1981,1982,1983,1984,1985,1986,1987,1988,1989,1990,1991,1992,1993,1994,1995,1996,1997,1998,1999,2000,2001,2002,2003,2004,2005,2006,2007,2008,2009,2010,2011,2012,2013,2014,2015,2016]}},
                      "y": {"field": "v", "type": "quantitative", "axis": {"title": null, "values": [-10,-7.5,-5,-2.5,0,2.5,5,7.5,10,12.5], "format": ".1f", "labelPadding": 8}},
                      "color": {"datum": "RANDOM_WALK", "type": "nominal", "scale": {"domain": ["RANDOM_WALK", "REGRESSION"], "range": ["#ff0000", "#000000"]}, "legend": {"title": null, "orient": "none", "legendX": 344, "legendY": 0}}}},
        {"data": {"name": "rgnsa"}, "mark": {"type": "line", "strokeWidth": 2},
         "encoding": {"x": {"field": "t", "type": "quantitative", "axis": null},
                      "y": {"field": "v", "type": "quantitative", "axis": {"title": null, "values": [-10,-7.5,-5,-2.5,0,2.5,5,7.5,10,12.5], "format": ".1f", "labelPadding": 8}},
                      "color": {"datum": "REGRESSION", "type": "nominal", "scale": {"domain": ["RANDOM_WALK", "REGRESSION"], "range": ["#ff0000", "#000000"]}, "legend": {"title": null, "orient": "none", "legendX": 344, "legendY": 0}}}}
      ],
      "resolve": {"axis": {"x": "independent"}}
    }
  ]
}
